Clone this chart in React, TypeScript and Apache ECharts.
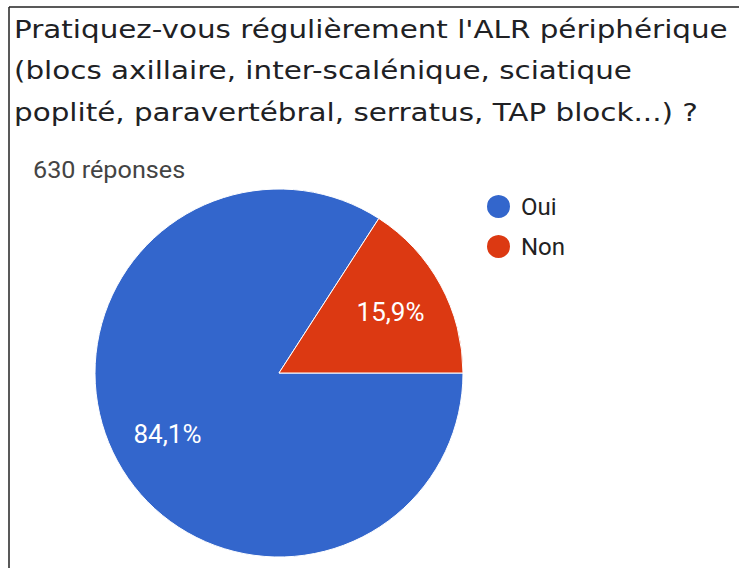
import React, { useEffect, useRef } from "react";
import * as echarts from "echarts";

const TITLE_LINES = [
  "Pratiquez-vous régulièrement l'ALR périphérique",
  "(blocs axillaire, inter-scalénique, sciatique",
  "poplité, paravertébral, serratus, TAP block...) ?",
];
const SUBTITLE = "630 réponses";
const CATEGORIES = ["Oui", "Non"];
const COUNTS = [530, 100];
const COLORS = ["#3366cc", "#dc3912"];

export default function App() {
  const ref = useRef<HTMLDivElement>(null);
  useEffect(() => {
    if (!ref.current) return;
    const chart = echarts.init(ref.current, null, { renderer: "svg" });
    const data = CATEGORIES.map((name, i) => ({
      name,
      value: COUNTS[i],
      itemStyle: { color: COLORS[i] },
    }));
    const labelData = CATEGORIES.map((name, i) => ({
      name,
      value: COUNTS[i],
    }));
    const titleLineY = [29.5, 71, 112.5];
    chart.setOption({
      animation: false,
      backgroundColor: "#ffffff",
      legend: {
        data: CATEGORIES,
        orient: "vertical",
        left: 485,
        top: 193,
        padding: 0,
        icon: "circle",
        itemWidth: 25,
        itemHeight: 25,
        itemGap: 13,
        selectedMode: false,
        textStyle: {
          fontFamily: "Roboto",
          fontSize: 24,
          color: "#222222",
          padding: [0, 0, 0, 5],
        },
      },
      graphic: [
        {
          type: "line",
          shape: { x1: 9, y1: 7, x2: 739, y2: 7 },
          style: { stroke: "#222222", lineWidth: 1.5 },
        },
        {
          type: "line",
          shape: { x1: 9, y1: 7, x2: 9, y2: 568 },
          style: { stroke: "#222222", lineWidth: 1.5 },
        },
        ...TITLE_LINES.map((t, i) => ({
          type: "text",
          x: 14,
          y: titleLineY[i],
          scaleX: 1.225,
          style: {
            text: t,
            fontFamily: "DejaVu Sans",
            fontSize: 24,
            fill: "#202124",
            verticalAlign: "middle",
            align: "left",
          },
        })),
        {
          type: "text",
          x: 33,
          y: 169.5,
          scaleX: 1.05,
          style: {
            text: SUBTITLE,
            fontFamily: "Roboto",
            fontSize: 24,
            fill: "#444444",
            verticalAlign: "middle",
            align: "left",
          },
        },
      ],
      series: [
        {
          type: "pie",
          center: [279, 373],
          radius: 184,
          startAngle: 0,
          clockwise: true,
          silent: true,
          label: { show: false },
          labelLine: { show: false },
          itemStyle: { borderColor: "#ffffff", borderWidth: 1 },
          data,
        },
        {
          type: "pie",
          center: [279, 373],
          radius: [64, 184],
          startAngle: 0,
          clockwise: true,
          silent: true,
          itemStyle: { color: "transparent", borderWidth: 0 },
          label: {
            show: true,
            position: "inside",
            fontFamily: "Roboto",
            fontSize: 26,
            color: "#ffffff",
            formatter: (p: any) => p.percent.toFixed(1).replace(".", ",") + "%",
          },
          labelLine: { show: false },
          data: labelData,
        },
      ],
    });
    return () => chart.dispose();
  }, []);
  return (
    <div
      ref={ref}
      style={{ position: "fixed", left: 0, top: 0, width: 739, height: 568 }}
    />
  );
}
